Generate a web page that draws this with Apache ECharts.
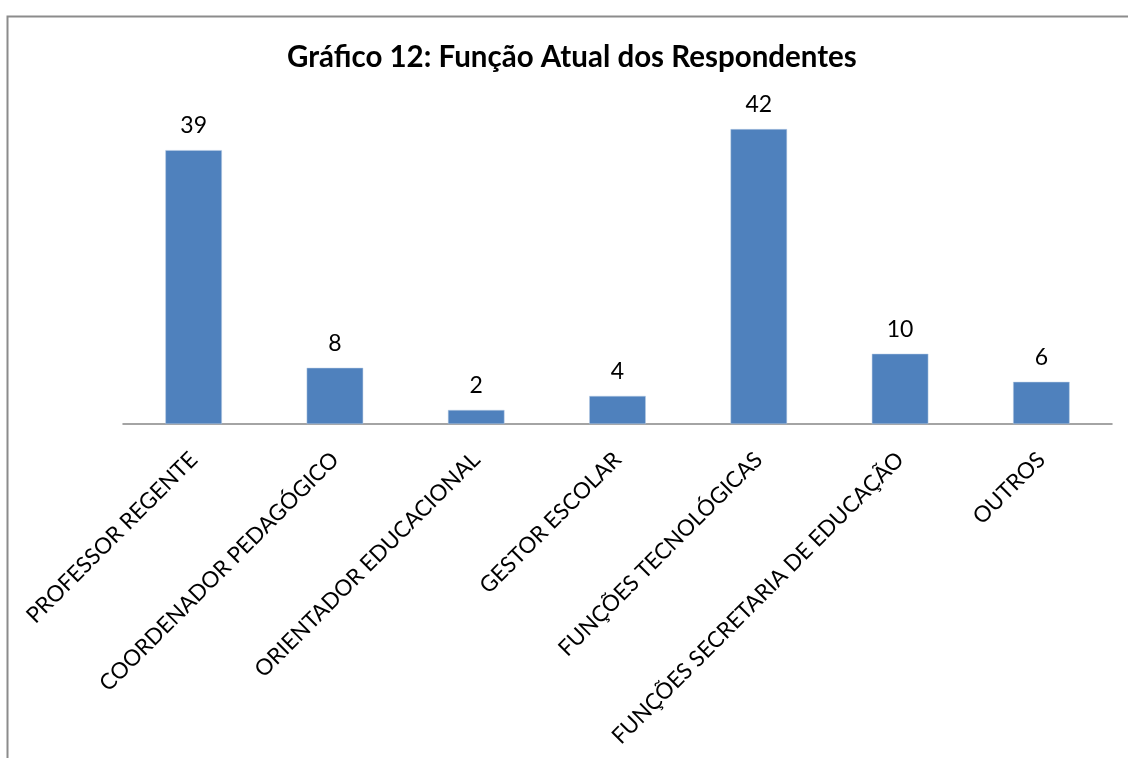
<!DOCTYPE html>
<html>
<head>
<meta charset="utf-8">
<script src="https://cdn.jsdelivr.net/npm/echarts@6/dist/echarts.min.js"></script>
<style>
html,body{margin:0;padding:0;background:#fff;}
#chart{width:1128px;height:758px;}
</style>
</head>
<body>
<div id="chart"></div>
<script>
const titleText = 'Gráfico 12: Função Atual dos Respondentes';
const categories = [
  'PROFESSOR REGENTE',
  'COORDENADOR PEDAGÓGICO',
  'ORIENTADOR EDUCACIONAL',
  'GESTOR ESCOLAR',
  'FUNÇÕES TECNOLÓGICAS',
  'FUNÇÕES SECRETARIA DE EDUCAÇÃO',
  'OUTROS'
];
const values = [39, 8, 2, 4, 42, 10, 6];

const FONT = 'Lato';
const chart = echarts.init(document.getElementById('chart'), null, {renderer: 'canvas'});
chart.setOption({
  animation: false,
  backgroundColor: '#ffffff',
  graphic: [{
    type: 'rect',
    silent: true,
    shape: {x: 7.5, y: 16.5, width: 1300, height: 900},
    style: {fill: 'none', stroke: '#8c8c8c', lineWidth: 2}
  }],
  title: {
    text: titleText,
    left: 287,
    top: 42,
    padding: 0,
    textStyle: {fontFamily: FONT, fontSize: 29.5, fontWeight: 'bold', color: '#000'}
  },
  grid: {left: 123, right: 16, top: 108, bottom: 334, containLabel: false},
  xAxis: {
    type: 'category',
    data: categories,
    axisLine: {lineStyle: {color: '#868686', width: 1.5}},
    axisTick: {show: false},
    axisLabel: {
      interval: 0,
      rotate: 45,
      margin: 32,
      fontFamily: FONT,
      fontSize: 22.3,
      color: '#000'
    }
  },
  yAxis: {
    type: 'value',
    min: 0,
    max: 45,
    show: false,
    splitLine: {show: false}
  },
  series: [{
    type: 'bar',
    data: values,
    barWidth: '40%',
    itemStyle: {color: '#4F81BD', borderColor: '#B9CDE5', borderWidth: 0.5},
    label: {
      show: true,
      position: 'top',
      distance: 13,
      fontFamily: FONT,
      fontSize: 23,
      color: '#000'
    }
  }]
});
</script>
</body>
</html>
